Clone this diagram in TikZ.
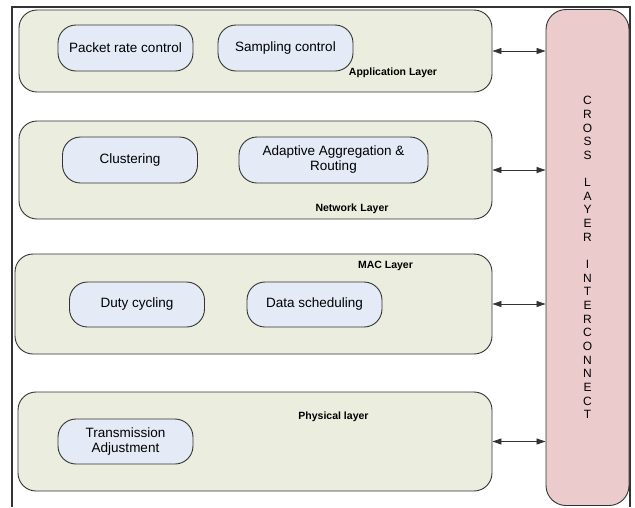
\documentclass[tikz,border=0pt]{standalone}
\usepackage{fontspec}
\setmainfont{Liberation Sans}
\usepackage{xcolor}
\usetikzlibrary{arrows.meta, positioning}

\definecolor{layerfill}{HTML}{EBEEDE}
\definecolor{funcfill}{HTML}{E4EAF6}
\definecolor{crossfill}{HTML}{EBCBCB}
\definecolor{linegray}{HTML}{333333}

\begin{document}
\begin{tikzpicture}[
  x=1pt, y=-1pt,
  every node/.style={font=\fontsize{13.5}{15}\selectfont},
  layer/.style={rectangle, rounded corners=18pt, draw=linegray, line width=0.9pt, fill=layerfill, inner sep=0pt},
  func/.style={rectangle, rounded corners=18pt, draw=linegray, line width=0.9pt, fill=funcfill, align=center,
               minimum width=135pt, minimum height=46pt, inner sep=0pt},
  tag/.style={font=\bfseries\fontsize{10.5}{12}\selectfont, inner sep=0pt},
  arr/.style={{Triangle[length=9pt,width=6pt]}-{Triangle[length=9pt,width=6pt]}, draw=linegray, line width=0.8pt},
]
  \useasboundingbox (0,0) rectangle (635,507);
  \draw[linegray, line width=1.1pt] (12,507) -- (12,7) -- (630,7) -- (630,507);

  % Layers
  \node[layer, minimum width=473pt, minimum height=82pt]  (app)  at (255.5,51)  {};
  \node[layer, minimum width=473pt, minimum height=98pt]  (net)  at (255.5,170) {};
  \node[layer, minimum width=477pt, minimum height=100pt] (mac)  at (253.5,304) {};
  \node[layer, minimum width=474pt, minimum height=99pt]  (phy)  at (255,441.5) {};

  \node[tag] (applbl) at (393,73)    {Application Layer};
  \node[tag] (netlbl) at (352,209)   {Network\,\,Layer};
  \node[tag] (maclbl) at (385.5,266) {MAC Layer};
  \node[tag] (phylbl) at (333.5,417) {Physical layer};

  % Functions
  \node[func] (rate)  at (125.5,48)  {Packet rate control};
  \node[func] (samp)  at (285.5,48)  {Sampling control};
  \node[func] (clus)  at (130,160)   {Clustering};
  \node[func, minimum width=189pt] (aggr) at (333.5,160) {Adaptive Aggregation \&\\Routing};
  \node[func, minimum height=45pt] (duty)  at (137,304.5)   {Duty cycling};
  \node[func, minimum height=45pt] (sched) at (314.5,304.5) {Data scheduling};
  \node[func, minimum height=45pt] (trans) at (125.5,441.5) {Transmission\\Adjustment};

  % Cross layer column
  \node[rectangle, rounded corners=20pt, draw=linegray, line width=0.9pt, fill=crossfill, inner sep=0pt,
        minimum width=83pt, minimum height=496pt, align=center,
        font=\fontsize{12}{13.65}\selectfont] (cross) at (587.5,257.5)
        {C\\R\\O\\S\\S\\\mbox{}\\L\\A\\Y\\E\\R\\\mbox{}\\I\\N\\T\\E\\R\\C\\O\\N\\N\\E\\C\\T};

  % Arrows
  \draw[arr] (app.east) -- (cross.west |- app.east);
  \draw[arr] (net.east) -- (cross.west |- net.east);
  \draw[arr] (mac.east) -- (cross.west |- mac.east);
  \draw[arr] (phy.east) -- (cross.west |- phy.east);
\end{tikzpicture}
\end{document}
